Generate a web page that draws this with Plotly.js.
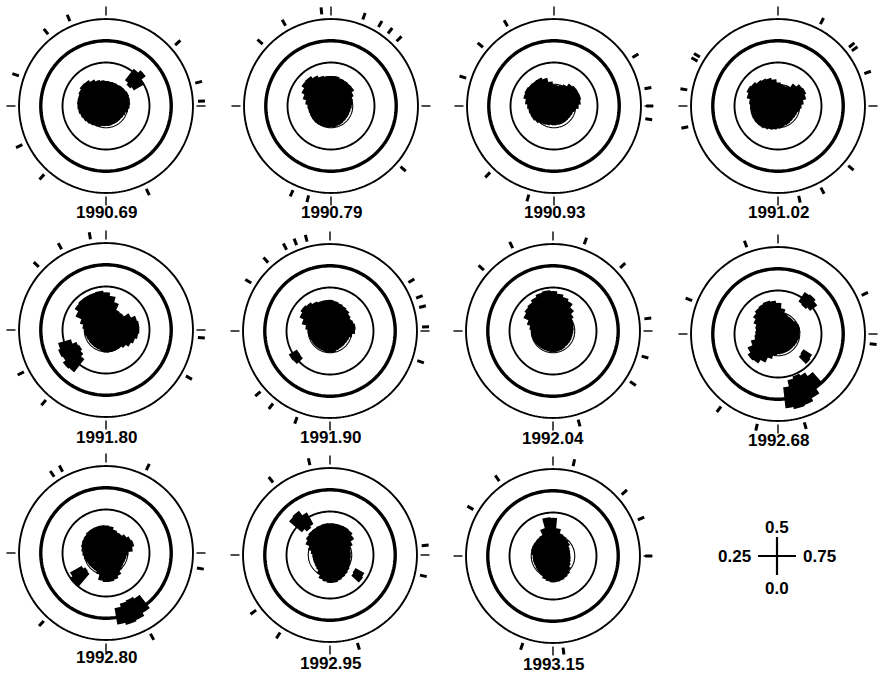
<!DOCTYPE html>
<html><head><meta charset="utf-8">
<script src="https://cdn.plot.ly/plotly-3.0.1.min.js"></script>
<style>html,body{margin:0;padding:0;background:#fff}#chart{width:880px;height:674px}</style>
</head><body><div id="chart"></div>
<script>
// ---------- DATA (phase: 0 = bottom, 0.25 = left, 0.5 = top, 0.75 = right) ----------
const panelLabels = ['1990.69','1990.79','1990.93','1991.02','1991.80','1991.90','1992.04','1992.68','1992.80','1992.95','1993.15'];
const ringRadii = [1, 2, 3, 4];

// core radii in 36 phase bins (bin k centred on phase k/36)
const core_1990_69 = [0.88,0.9,0.95,1.0,1.05,1.1,1.15,1.2,1.25,1.28,1.3,1.3,1.35,1.42,1.4,1.3,1.2,1.15,1.12,1.1,1.1,1.08,1.1,1.1,1.12,1.1,1.08,1.05,1.0,0.92,0.88,0.86,0.86,0.86,0.87,0.88];
const core_1990_79 = [0.95,0.95,0.97,0.98,1.0,1.0,1.0,1.0,1.02,1.05,1.15,1.3,1.45,1.6,1.62,1.5,1.4,1.35,1.35,1.35,1.3,1.28,1.26,1.25,1.1,1.0,0.95,0.92,0.88,0.87,0.87,0.87,0.88,0.9,0.92,0.94];
const core_1990_93 = [0.85,0.85,0.88,0.92,0.98,1.05,1.1,1.12,1.15,1.2,1.3,1.42,1.45,1.42,1.4,1.4,1.3,1.1,0.95,0.92,0.95,1.05,1.2,1.25,1.25,1.25,1.2,1.1,0.95,0.88,0.86,0.85,0.85,0.85,0.85,0.85];
const core_1991_02 = [1.0,1.05,1.1,1.15,1.2,1.22,1.24,1.25,1.25,1.25,1.3,1.45,1.55,1.5,1.4,1.35,1.3,1.2,1.05,0.95,0.93,1.0,1.2,1.35,1.38,1.3,1.15,1.05,0.95,0.9,0.88,0.87,0.88,0.9,0.92,0.95];
const core_1991_80 = [1.0,0.95,0.92,0.9,0.9,0.9,0.9,0.92,0.95,0.98,1.05,1.2,1.5,1.7,1.75,1.75,1.75,1.78,1.7,1.55,1.3,1.0,0.95,1.0,1.25,1.45,1.5,1.5,1.45,1.35,1.25,1.1,1.0,1.0,1.0,1.0];
const core_1991_90 = [0.97,0.95,0.93,0.92,0.92,0.92,0.93,0.95,0.98,1.0,1.1,1.3,1.5,1.6,1.55,1.45,1.4,1.4,1.4,1.35,1.3,1.25,1.2,1.1,1.05,1.1,1.15,1.12,1.0,0.9,0.88,0.87,0.87,0.88,0.9,0.95];
const core_1992_04 = [0.95,0.93,0.92,0.92,0.93,0.94,0.95,0.96,0.97,0.98,1.05,1.2,1.45,1.55,1.6,1.7,1.8,1.85,1.8,1.7,1.6,1.5,1.3,1.1,0.98,0.95,0.92,0.9,0.88,0.88,0.88,0.88,0.88,0.9,0.92,0.93];
const core_1992_68 = [0.9,0.95,1.15,1.4,1.6,1.65,1.5,1.25,1.05,1.0,1.0,1.05,1.2,1.35,1.45,1.5,1.55,1.5,1.4,1.15,0.95,0.9,0.9,0.9,0.95,1.0,1.0,0.95,0.95,0.92,0.9,0.88,0.88,0.88,0.88,0.88];
const core_1992_80 = [1.3,1.25,1.0,0.9,0.9,0.9,0.92,0.95,1.0,1.05,1.1,1.15,1.18,1.2,1.25,1.25,1.25,1.25,1.23,1.2,1.1,1.05,1.05,1.15,1.25,1.3,1.2,1.0,0.92,0.9,0.9,0.92,1.0,1.15,1.25,1.3];
const core_1992_95 = [1.25,1.2,1.15,1.0,0.85,0.8,0.78,0.77,0.77,0.78,0.85,1.0,1.2,1.3,1.35,1.37,1.4,1.42,1.43,1.42,1.42,1.42,1.4,1.3,1.1,0.95,0.92,0.92,0.92,0.95,1.0,1.05,1.1,1.15,1.2,1.25];
const core_1993_15 = [1.18,1.15,1.1,1.0,0.95,0.92,0.9,0.9,0.9,0.9,0.95,1.0,1.0,1.0,1.02,1.05,1.3,1.75,1.72,1.25,1.05,1.0,0.95,0.9,0.8,0.78,0.76,0.76,0.78,0.8,0.85,0.95,1.05,1.1,1.15,1.17];

// detached clumps: [phase, inner radius, outer radius]
const clumps_1990_69 = [[0.615,1.5,2.1],[0.635,1.4,2.25],[0.655,1.5,2.0]];
const clumps_1990_79 = [];
const clumps_1990_93 = [];
const clumps_1991_02 = [];
const clumps_1991_80 = [[0.115,1.7,2.4],[0.135,1.55,2.45],[0.155,1.45,2.3],[0.175,1.5,2.35],[0.195,1.7,2.25]];
const clumps_1991_90 = [[0.138,1.8,2.12],[0.155,1.78,2.15]];
const clumps_1992_04 = [];
const clumps_1992_68 = [[0.603,1.8,2.25],[0.62,1.75,2.3],[0.637,1.85,2.2],[0.85,1.4,1.8],[0.868,1.45,1.85],[0.895,2.4,3.0],[0.915,2.2,3.3],[0.935,2.1,3.45],[0.955,2.2,3.5],[0.972,2.5,3.4]];
const clumps_1992_80 = [[0.122,1.25,1.95],[0.14,1.2,2.0],[0.158,1.3,1.85],[0.905,2.5,3.2],[0.925,2.4,3.35],[0.945,2.45,3.4],[0.963,2.6,3.3]];
const clumps_1992_95 = [[0.372,1.7,2.4],[0.39,1.55,2.45],[0.408,1.65,2.2],[0.84,1.35,1.75],[0.858,1.4,1.8]];
const clumps_1993_15 = [];

// outer tick marks (phases)
const ticks_1990_69 = [0.436,0.392,0.303,0.181,0.117,0.928,0.635,0.71,0.742];
const ticks_1990_79 = [0.484,0.418,0.367,0.556,0.586,0.606,0.626,0.864,0.039,0.0675];
const ticks_1990_93 = [0.416,0.36,0.299,0.122,0.044,0.662,0.72,0.75,0.772];
const ticks_1991_02 = [0.576,0.64,0.648,0.693,0.862,0.923,0.964,0.278,0.214,0.331,0.339];
const ticks_1991_80 = [0.473,0.42,0.37,0.175,0.113,0.833,0.763];
const ticks_1991_90 = [0.46,0.441,0.422,0.383,0.337,0.136,0.106,0.058,0.662,0.692,0.709,0.743,0.802];
const ticks_1992_04 = [0.428,0.365,0.555,0.63,0.729,0.794,0.8425,0.956];
const ticks_1992_68 = [0.445,0.309,0.106,0.036,0.954,0.681,0.767];
const ticks_1992_80 = [0.405,0.422,0.572,0.118,0.92,0.776];
const ticks_1992_95 = [0.465,0.394,0.148,0.091,0.952,0.734,0.785];
const ticks_1993_15 = [0.535,0.401,0.334,0.634,0.686,0.75,0.053,0.9825];

const cores = [core_1990_69,core_1990_79,core_1990_93,core_1991_02,core_1991_80,core_1991_90,core_1992_04,core_1992_68,core_1992_80,core_1992_95,core_1993_15];
const clumps = [clumps_1990_69,clumps_1990_79,clumps_1990_93,clumps_1991_02,clumps_1991_80,clumps_1991_90,clumps_1992_04,clumps_1992_68,clumps_1992_80,clumps_1992_95,clumps_1993_15];
const ticks = [ticks_1990_69,ticks_1990_79,ticks_1990_93,ticks_1991_02,ticks_1991_80,ticks_1991_90,ticks_1992_04,ticks_1992_68,ticks_1992_80,ticks_1992_95,ticks_1993_15];

// legend phases
const legendPhases = ['0.0','0.25','0.5','0.75'];

// ---------- LAYOUT ----------
const W = 880, H = 674;
const centerX = [106,331,554,778,106,330,553,778,106,330,553];
const centerY = [106,106,106,106,330,331,331,334,553,555,556];
const labelY  = [213,213,213,213,437,437,438,440,657,663,664];
const HALF = 100;           // polar radius in px
const RMAX = 4.6;           // radial range so that r=4 sits at 87 px
const FONT = 'Liberation Sans, Arial, Helvetica, sans-serif';

const deg = p => p * 360;
const circleTheta = [];
for (let a = 0; a <= 360; a += 2) circleTheta.push(a);

const traces = [];
const layout = {
  width: W, height: H, margin: {l:0, r:0, t:0, b:0},
  paper_bgcolor: '#fff', plot_bgcolor: '#fff', showlegend: false,
  annotations: [], shapes: []
};

panelLabels.forEach((lab, i) => {
  const sp = i === 0 ? 'polar' : 'polar' + (i + 1);
  const cx = centerX[i], cy = centerY[i];
  layout[sp] = {
    domain: {x: [(cx - HALF) / W, (cx + HALF) / W], y: [1 - (cy + HALF) / H, 1 - (cy - HALF) / H]},
    bgcolor: 'rgba(0,0,0,0)',
    radialaxis: {range: [0, RMAX], visible: false},
    angularaxis: {
      rotation: 270, direction: 'clockwise', showline: false, showgrid: false,
      showticklabels: false, ticks: 'inside', ticklen: 9, tickwidth: 1.4, tickcolor: '#000',
      tickmode: 'array', tickvals: [0, 90, 180, 270]
    }
  };
  // rings
  const thinR = [], thinT = [];
  [ringRadii[1], ringRadii[3]].forEach(rr => {
    circleTheta.forEach(t => { thinR.push(rr); thinT.push(t); });
    thinR.push(null); thinT.push(null);
  });
  traces.push({type:'scatterpolar', subplot: sp, mode:'lines', r: thinR, theta: thinT,
    line:{color:'#000', width:1.9}, hoverinfo:'skip'});
  traces.push({type:'scatterpolar', subplot: sp, mode:'lines', r: circleTheta.map(() => ringRadii[2]), theta: circleTheta,
    line:{color:'#000', width:3.4}, hoverinfo:'skip'});
  traces.push({type:'scatterpolar', subplot: sp, mode:'lines', r: circleTheta.map(() => ringRadii[0]), theta: circleTheta,
    line:{color:'#000', width:1.1}, hoverinfo:'skip'});
  // core blob
  const core = cores[i];
  traces.push({type:'barpolar', subplot: sp, r: core, theta: core.map((_, k) => deg(k / core.length)),
    width: core.map(() => 360 / core.length), marker:{color:'#000', line:{color:'#000', width:1.5}}, hoverinfo:'skip'});
  // clumps
  const cl = clumps[i];
  if (cl.length) {
    traces.push({type:'barpolar', subplot: sp, r: cl.map(c => c[2] - c[1]), base: cl.map(c => c[1]),
      theta: cl.map(c => deg(c[0])), width: cl.map(() => 7.5),
      marker:{color:'#000', line:{color:'#000', width:1.5}}, hoverinfo:'skip'});
  }
  // outer tick marks
  const tr = [], tt = [];
  ticks[i].forEach(p => { tr.push(4.24, 4.56, null); tt.push(deg(p), deg(p), null); });
  traces.push({type:'scatterpolar', subplot: sp, mode:'lines', r: tr, theta: tt,
    line:{color:'#000', width:3}, hoverinfo:'skip'});
  // label
  layout.annotations.push({xref:'paper', yref:'paper', x: cx / W, y: 1 - labelY[i] / H,
    xanchor:'center', yanchor:'middle', showarrow:false, text: '<b>' + lab + '</b>',
    font:{family: FONT, size: 17, color:'#000'}});
});

// phase key (bottom right)
const kx = 777, ky = 556, arm = 19;
const toX = x => x / W, toY = y => 1 - y / H;
layout.shapes.push({type:'line', xref:'paper', yref:'paper', x0: toX(kx - arm), x1: toX(kx + arm), y0: toY(ky), y1: toY(ky), line:{color:'#000', width:2.2}});
layout.shapes.push({type:'line', xref:'paper', yref:'paper', x0: toX(kx), x1: toX(kx), y0: toY(ky - arm), y1: toY(ky + arm), line:{color:'#000', width:2.2}});
const keyPos = [[kx, ky + 32, 'center'], [kx - 24, ky, 'right'], [kx, ky - 29, 'center'], [kx + 24, ky, 'left']];
legendPhases.forEach((t, j) => {
  layout.annotations.push({xref:'paper', yref:'paper', x: toX(keyPos[j][0]), y: toY(keyPos[j][1]),
    xanchor: keyPos[j][2], yanchor:'middle', showarrow:false, text: '<b>' + t + '</b>',
    font:{family: FONT, size: 17, color:'#000'}});
});

Plotly.newPlot('chart', traces, layout, {staticPlot: true, displayModeBar: false});
</script></body></html>
